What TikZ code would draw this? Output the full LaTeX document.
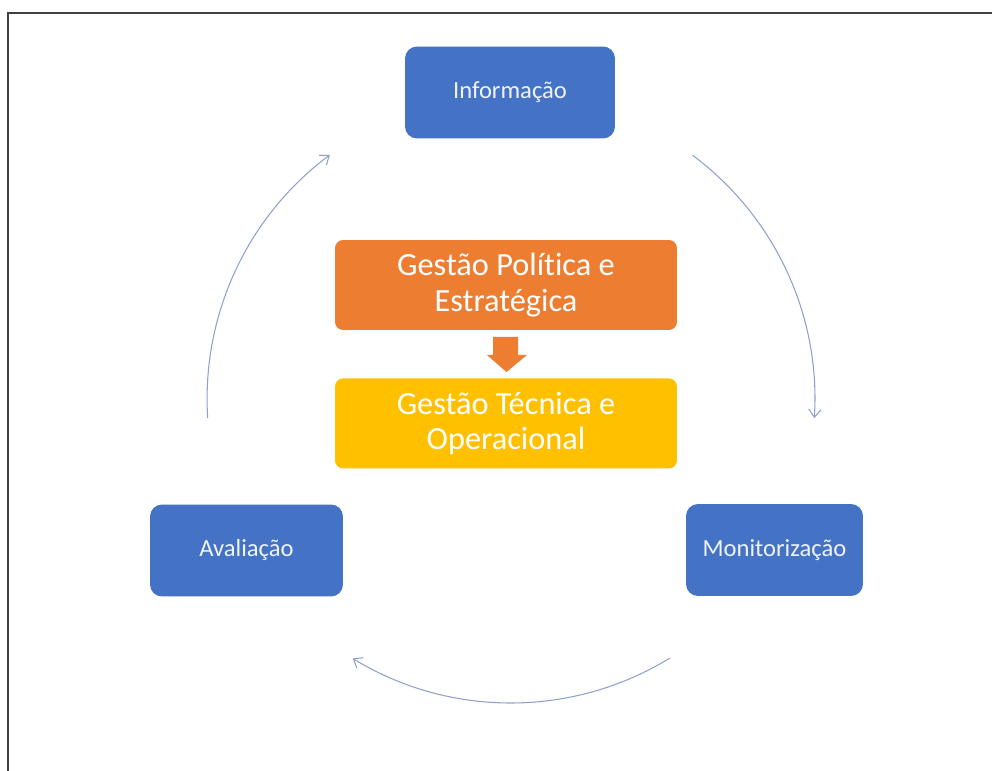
\documentclass[tikz,border=0pt]{standalone}
\usepackage{fontspec}
\setmainfont[Ligatures=NoCommon]{Carlito}
\usepackage{xcolor}
\usepackage{tikz}
\usetikzlibrary{arrows.meta, positioning}
\definecolor{stageblue}{HTML}{4472C4}
\definecolor{polorange}{HTML}{ED7D31}
\definecolor{tecyellow}{HTML}{FFC000}
\definecolor{cyclegray}{RGB}{143,160,205}
\tikzstyle{stage} = [rectangle, rounded corners=0.24cm, minimum height=1.84cm, inner sep=0pt, text centered, fill=stageblue, text=white!92!stageblue, font=\fontsize{14}{17}\selectfont]
\tikzstyle{level} = [rectangle, rounded corners=0.16cm, minimum width=6.84cm, minimum height=1.8cm, inner sep=0pt, align=center, text=white, font=\fontsize{18.4}{20.3}\selectfont]
\tikzstyle{cycle} = [draw=cyclegray, line width=0.6pt, -{Straight Barb[length=4.5pt, width=7pt]}]

\begin{document}
\begin{tikzpicture}[x=0.02cm, y=0.02cm, node distance=2.77cm]
		
		\useasboundingbox (0,0) rectangle (992,771);
		\draw [black!75, line width=1pt] (8,0) -- (8,758) -- (992,758);
		
		% Nodes
		\node (info) [stage, minimum width=4.2cm] at (510,678.5) {Informação};
		\node (monitor) [stage, minimum width=3.54cm] at (774.5,221) {Monitorização};
		\node (eval) [stage, minimum width=3.86cm] at (246.5,220.5) {Avaliação};
		\node (politica) [level, fill=polorange] at (506,486) {Gestão Política e\\Estratégica};
		\node (tecnica) [level, fill=tecyellow, below of=politica] {Gestão Técnica e\\Operacional};
		
		% Block arrow
		\fill [polorange] (493,434) -- (518,434) -- (518,416) -- (527,416) -- (506.5,399) -- (487,416) -- (493,416) -- cycle;
		
		% Cycle
		\coordinate (hub) at (511,372);
		\draw [cycle] ([shift={(53.3:6.08cm)}]hub) arc [start angle=53.3, end angle=-3.6, radius=6.08cm];
		\draw [cycle] ([shift={(-58.5:6.08cm)}]hub) arc [start angle=-58.5, end angle=-121.4, radius=6.08cm];
		\draw [cycle] ([shift={(183.6:6.08cm)}]hub) arc [start angle=183.6, end angle=126.6, radius=6.08cm];
		
	\end{tikzpicture}
\end{document}
